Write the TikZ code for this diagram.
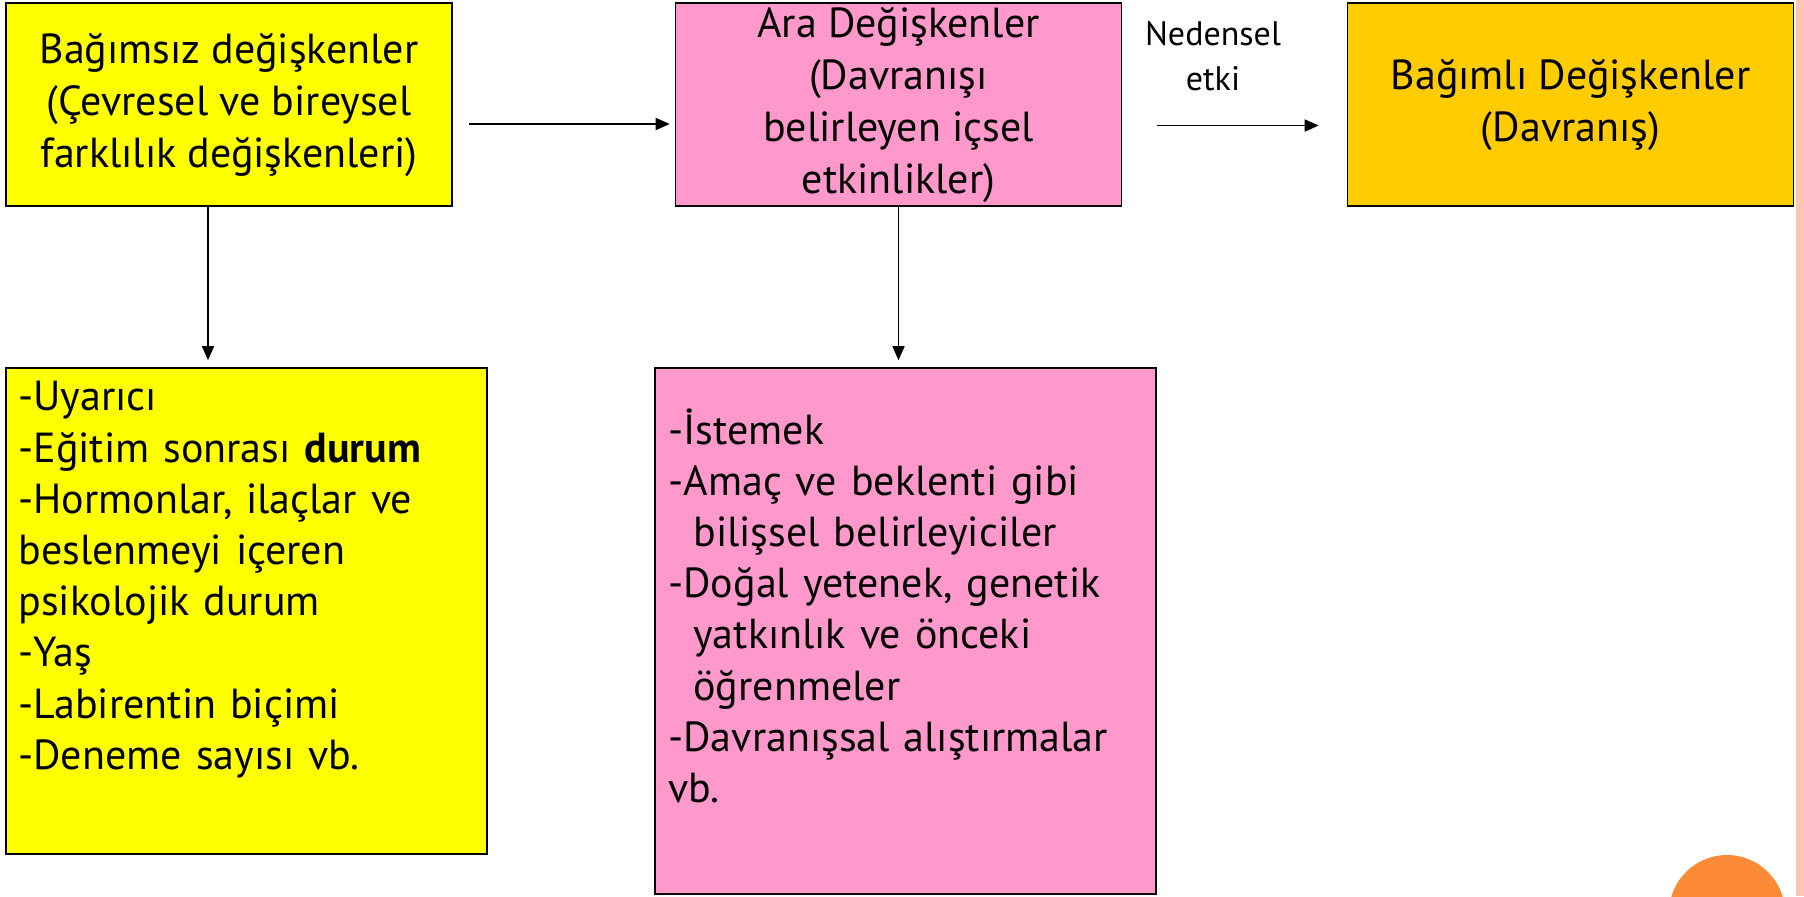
\documentclass[tikz,border=0pt]{standalone}
\usepackage{fontspec}
\setmainfont{PT Sans}
\usetikzlibrary{arrows.meta}
\definecolor{boxyellow}{HTML}{FFFF00}
\definecolor{boxpink}{HTML}{FF99CC}
\definecolor{boxgold}{HTML}{FFCC00}
\definecolor{edgesalmon}{HTML}{FDC6B0}
\definecolor{dotorange}{HTML}{FD8A36}

\begin{document}
\begin{tikzpicture}[x=0.5pt, y=-0.5pt,
    box/.style={draw=black, line width=0.8pt, inner sep=0pt, align=center, font=\fontsize{21}{26}\selectfont},
    topbox/.style={box, minimum width=223pt, minimum height=101.5pt},
    listtext/.style={inner sep=0pt, anchor=north west, align=left, font=\fontsize{21}{25.6}\selectfont},
    arr/.style={-{Triangle[length=7pt, width=6pt]}, line width=0.8pt}]
        \useasboundingbox (0, 0) rectangle (1804, 896);
        \fill[edgesalmon] (1796, 0) rectangle (1804, 896);
        \fill[dotorange] (1727, 913) circle[radius=29pt];

        \node[topbox, fill=boxyellow] (indep) at (229, 104.5) {Bağımsız değişkenler\\(Çevresel ve bireysel\\farklılık değişkenleri)};
        \node[topbox, fill=boxpink] (mediator) at (898.5, 104.5) {Ara Değişkenler\\(Davranışı\\belirleyen içsel\\etkinlikler)};
        \node[topbox, fill=boxgold] (outcome) at (1570.5, 104.5) {Bağımlı Değişkenler\\(Davranış)};
        \node[inner sep=0pt, align=center, font=\fontsize{17}{22.5}\selectfont] (cause) at (1213, 56) {Nedensel\\etki};

        \node[box, fill=boxyellow, minimum width=240.5pt, minimum height=243pt] (indeplist) at (246.5, 611) {};
        \node[listtext, text width=230pt] (indepitems) at (18, 381) {-Uyarıcı\\-Eğitim sonrası \textbf{durum}\\-Hormonlar, ilaçlar ve\\beslenmeyi içeren\\psikolojik durum\\-Yaş\\-Labirentin biçimi\\-Deneme sayısı vb.};
        \node[box, fill=boxpink, minimum width=250.5pt, minimum height=263pt] (mediatorlist) at (905.5, 631) {};
        \node[listtext, text width=240pt] (mediatoritems) at (668, 408) {-İstemek\\-Amaç ve beklenti gibi\\\hspace*{12.5pt}bilişsel belirleyiciler\\-Doğal yetenek, genetik\\\hspace*{12.5pt}yatkınlık ve önceki\\\hspace*{12.5pt}öğrenmeler\\-Davranışsal alıştırmalar\\vb.};

        \draw[arr] ([shift={(8pt,-9.75pt)}]indep.east) -- ([shift={(-2.5pt,-9.75pt)}]mediator.west);
        \draw[arr] ([shift={(17.5pt,-10.5pt)}]mediator.east) -- ([shift={(-14pt,-10.5pt)}]outcome.west);
        \draw[arr, shorten >=3.5pt] ([xshift=-10.5pt]indep.south) -- ([xshift=-10.5pt]indep.south |- indeplist.north);
        \draw[arr, shorten >=3.5pt] (mediator.south) -- (mediator.south |- mediatorlist.north);
      \end{tikzpicture}
\end{document}
